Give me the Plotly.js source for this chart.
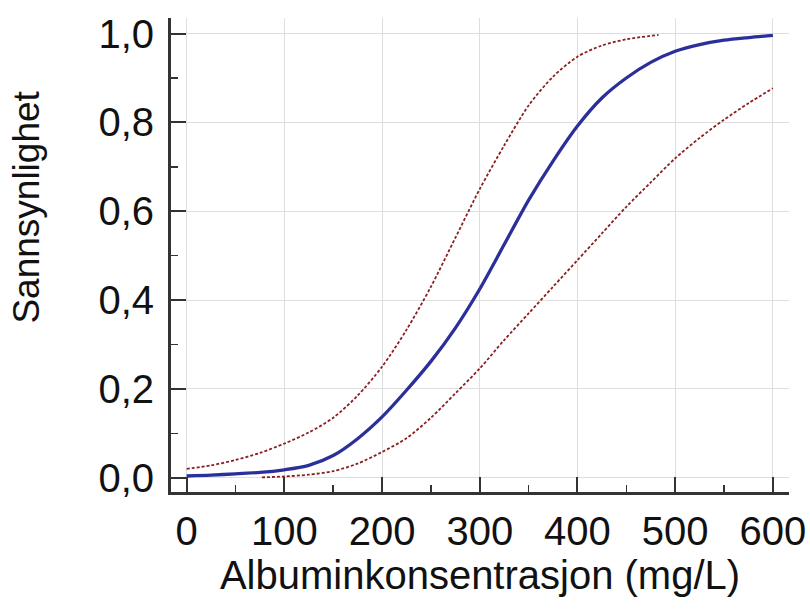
<!DOCTYPE html>
<html>
<head>
<meta charset="utf-8">
<script src="https://cdn.plot.ly/plotly-3.0.1.min.js"></script>
<style>html,body{margin:0;padding:0;background:#fff;}#chart{width:810px;height:611px;}</style>
</head>
<body>
<div id="chart"></div>
<script>
// Estimated probability curve (solid) and confidence band (dashed)
const fitX = [0, 25, 50, 75, 100, 125, 150, 175, 200, 225, 250, 275, 300, 325, 350, 375, 400, 425, 450, 475, 500, 525, 550, 575, 600];
const fitY = [0.004, 0.006, 0.009, 0.012, 0.018, 0.028, 0.05, 0.088, 0.137, 0.197, 0.262, 0.337, 0.425, 0.525, 0.625, 0.713, 0.792, 0.855, 0.9, 0.935, 0.96, 0.975, 0.985, 0.991, 0.996];

const upperX = [0, 25, 50, 75, 100, 125, 150, 175, 200, 225, 250, 275, 300, 325, 350, 375, 400, 425, 450, 483];
const upperY = [0.020, 0.028, 0.040, 0.056, 0.077, 0.102, 0.135, 0.185, 0.25, 0.333, 0.43, 0.54, 0.65, 0.748, 0.838, 0.903, 0.948, 0.973, 0.987, 0.997];

const lowerX = [77, 100, 125, 150, 175, 200, 225, 250, 275, 300, 325, 350, 375, 400, 425, 450, 475, 500, 525, 550, 575, 600];
const lowerY = [0.001, 0.003, 0.007, 0.015, 0.032, 0.058, 0.089, 0.135, 0.19, 0.246, 0.31, 0.37, 0.43, 0.49, 0.55, 0.61, 0.665, 0.719, 0.765, 0.806, 0.843, 0.877];

const xTicks = [0, 100, 200, 300, 400, 500, 600];
const yTicks = [0, 0.2, 0.4, 0.6, 0.8, 1.0];

const xTitle = "Albuminkonsentrasjon (mg/L)";
const yTitle = "Sannsynlighet";

const dashLine = {color: "#8b1f1f", width: 1.8, dash: "3px,2px", shape: "spline", smoothing: 0.8};

const traces = [
  {x: upperX, y: upperY, mode: "lines", line: dashLine, hoverinfo: "skip"},
  {x: lowerX, y: lowerY, mode: "lines", line: dashLine, hoverinfo: "skip"},
  {x: fitX, y: fitY, mode: "lines", line: {color: "#2b2f9a", width: 3.3, shape: "spline", smoothing: 0.8}}
];

const fam = "Liberation Sans, Arial, sans-serif";
const tickFont = {family: fam, size: 40, color: "#111"};
const xTitleFont = {family: fam, size: 40, color: "#111"};
const yTitleFont = {family: fam, size: 37, color: "#111"};

const layout = {
  width: 810, height: 611,
  margin: {l: 171, r: 21, t: 18, b: 119},
  paper_bgcolor: "#fff", plot_bgcolor: "#fff",
  showlegend: false,
  separators: ",.",
  font: tickFont,
  xaxis: {
    range: [-16, 616.5],
    tickvals: xTicks,
    ticktext: xTicks.map(String),
    ticks: "inside", ticklen: 15, tickwidth: 2, tickcolor: "#333",
    minor: {dtick: 50, tick0: 0, ticks: "inside", ticklen: 7, tickwidth: 1.5, tickcolor: "#333", showgrid: false},
    showline: true, linecolor: "#333", linewidth: 3,
    showgrid: true, gridcolor: "#dedede", gridwidth: 1,
    zeroline: false,
    tickfont: tickFont,
    ticklabelstandoff: 2,
    title: {text: xTitle, font: xTitleFont, standoff: 6}
  },
  yaxis: {
    range: [-0.032, 1.035],
    tickvals: yTicks,
    tickformat: ".1f",
    ticks: "inside", ticklen: 15, tickwidth: 2, tickcolor: "#333",
    minor: {dtick: 0.1, tick0: 0, ticks: "inside", ticklen: 7, tickwidth: 1.5, tickcolor: "#333", showgrid: false},
    showline: true, linecolor: "#333", linewidth: 3,
    showgrid: true, gridcolor: "#dedede", gridwidth: 1,
    zeroline: false,
    tickfont: tickFont,
    ticklabelstandoff: 6
  },
  annotations: [{
    text: yTitle, font: yTitleFont, textangle: -90,
    xref: "paper", yref: "paper", x: -0.233, y: 0.60,
    xanchor: "center", yanchor: "middle", showarrow: false
  }]
};

Plotly.newPlot("chart", traces, layout, {staticPlot: true, displayModeBar: false});
</script>
</body>
</html>
